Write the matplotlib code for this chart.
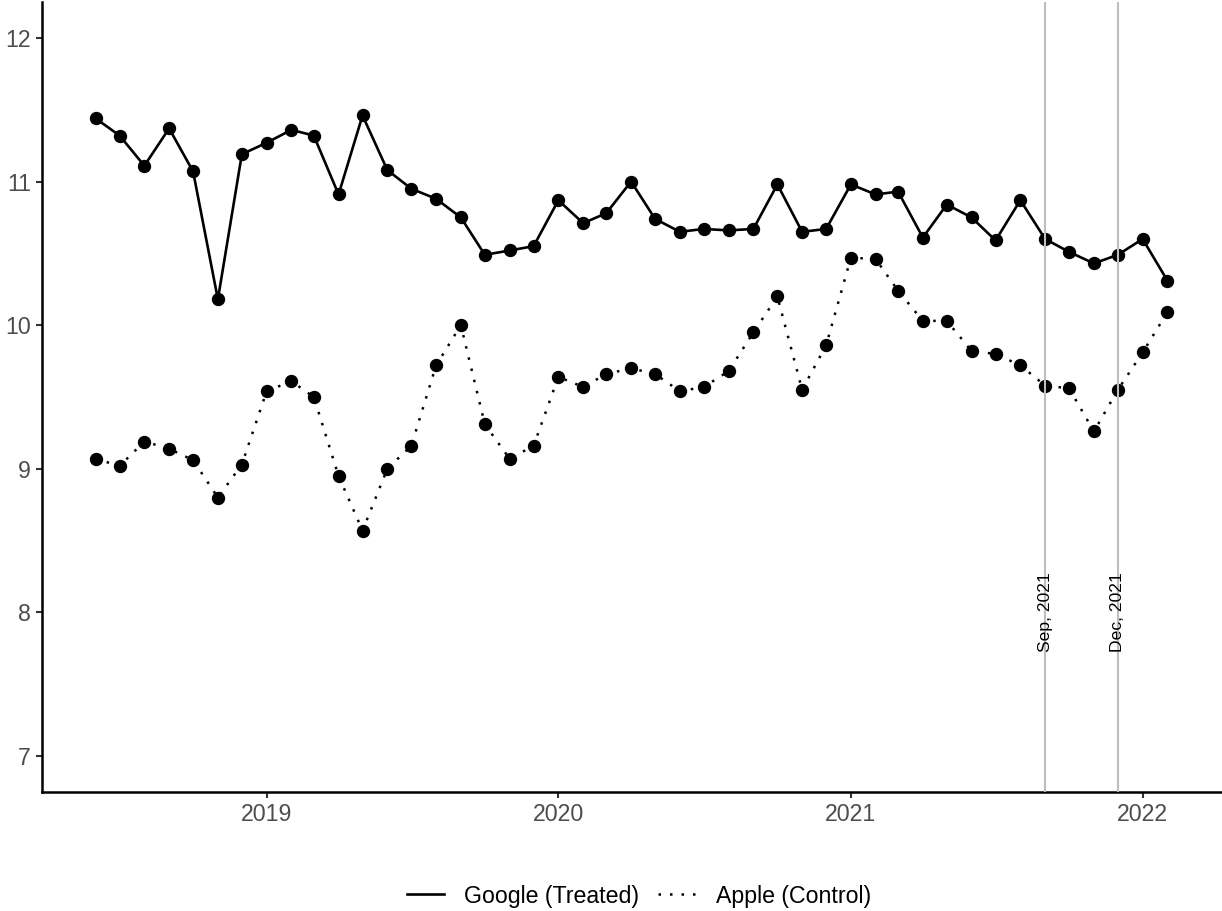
import numpy as np
import pandas as pd
import matplotlib
matplotlib.use('Agg')
import matplotlib.pyplot as plt
import matplotlib.dates as mdates
from matplotlib.lines import Line2D

plt.rcParams['font.family'] = ['Liberation Sans', 'DejaVu Sans']

# ── Data: monthly series, Jun 2018 – Feb 2022 ─────────────────────────────────
months = pd.date_range('2018-06-01', '2022-02-01', freq='MS')

google = [11.44, 11.32, 11.11, 11.37, 11.07, 10.18, 11.19, 11.27, 11.36, 11.32,
          10.91, 11.46, 11.08, 10.95, 10.88, 10.75, 10.49, 10.52, 10.55, 10.87,
          10.71, 10.78, 11.00, 10.74, 10.65, 10.67, 10.66, 10.67, 10.98, 10.65,
          10.67, 10.98, 10.91, 10.93, 10.61, 10.84, 10.75, 10.59, 10.87, 10.60,
          10.51, 10.43, 10.49, 10.60, 10.31]

apple = [9.07, 9.02, 9.19, 9.14, 9.06, 8.80, 9.03, 9.54, 9.61, 9.50,
         8.95, 8.57, 9.00, 9.16, 9.72, 10.00, 9.31, 9.07, 9.16, 9.64,
         9.57, 9.66, 9.70, 9.66, 9.54, 9.57, 9.68, 9.95, 10.20, 9.55,
         9.86, 10.47, 10.46, 10.24, 10.03, 10.03, 9.82, 9.80, 9.72, 9.58,
         9.56, 9.26, 9.55, 9.81, 10.09]

events = ['2021-09-01', '2021-12-01']
event_labels = ['Sep, 2021', 'Dec, 2021']

# ── Figure ────────────────────────────────────────────────────────────────────
W, H = 1222, 911
fig = plt.figure(figsize=(W / 100, H / 100), dpi=100)
ax = fig.add_axes([42 / W, 1 - 792 / H, (1221 - 42) / W, (792 - 2) / H])

dot_style = (0, (1, 3.6))
ax.plot(months, google, color='black', lw=1.9, zorder=2)
ax.plot(months, apple, color='black', lw=1.8, linestyle=dot_style, zorder=2)
ax.plot(months, google, 'o', color='black', ms=8.6, zorder=3)
ax.plot(months, apple, 'o', color='black', ms=8.6, zorder=3)

for d, lab in zip(events, event_labels):
    d = pd.Timestamp(d)
    ax.axvline(d, color='#BEBEBE', lw=1.5, zorder=4)
    ax.text(d, 8, lab, rotation=90, ha='center', va='center',
            fontsize=12.6, color='black', zorder=5)

ax.set_ylim(6.75, 12.25)
ax.set_yticks([7, 8, 9, 10, 11, 12])
ax.xaxis.set_major_locator(mdates.YearLocator())
ax.xaxis.set_major_formatter(mdates.DateFormatter('%Y'))

for s in ['top', 'right']:
    ax.spines[s].set_visible(False)
for s in ['left', 'bottom']:
    ax.spines[s].set_linewidth(1.8)
    ax.spines[s].set_color('black')
ax.tick_params(length=4, width=1.5, color='#333333', labelcolor='#4D4D4D',
               labelsize=16.7, pad=4)

handles = [Line2D([], [], color='black', lw=1.9),
           Line2D([], [], color='black', lw=1.8, linestyle=dot_style)]
fig.legend(handles, ['Google (Treated)', 'Apple (Control)'], ncol=2,
           loc='center', bbox_to_anchor=(639 / W, 1 - 896 / H),
           frameon=False, fontsize=16.7, handlelength=1.6,
           handletextpad=0.86, columnspacing=0.82, borderpad=0)

fig.savefig('out.png', dpi=100)
